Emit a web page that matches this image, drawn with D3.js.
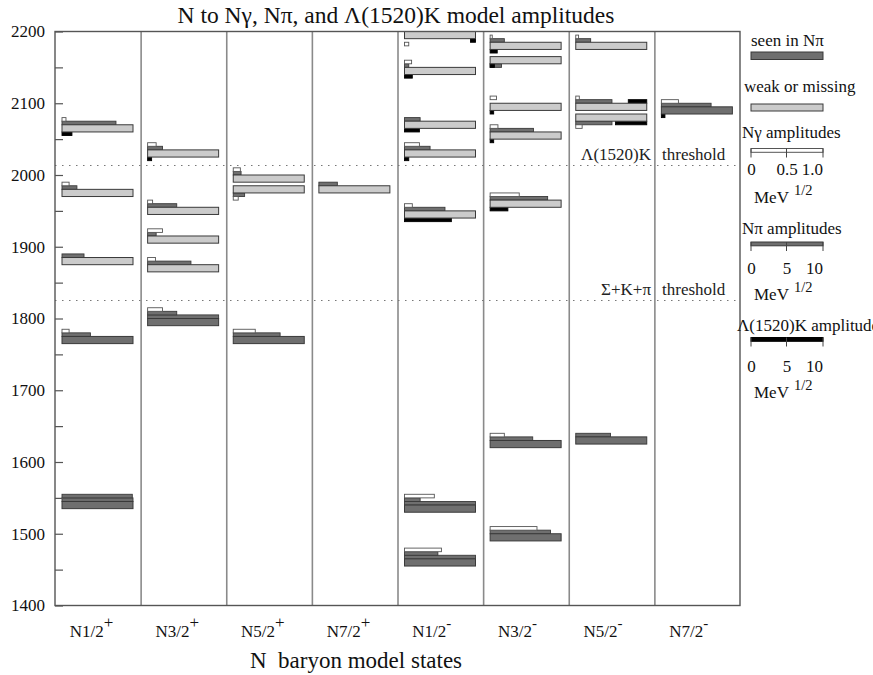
<!DOCTYPE html>
<html>
<head>
<meta charset="utf-8">
<script src="https://cdn.jsdelivr.net/npm/d3@7"></script>
<style>
  html, body { margin: 0; padding: 0; background: #fff; }
  svg { display: block; }
  svg text { font-family: "Liberation Serif", "Times New Roman", serif; }
</style>
</head>
<body>
<svg id="chart" width="873" height="675"></svg>
<script>
// Quark-model N* states: columns by J^P
const columnNames = ["N1/2+", "N3/2+", "N5/2+", "N7/2+", "N1/2-", "N3/2-", "N5/2-", "N7/2-"];
const columnBase  = ["N1/2", "N3/2", "N5/2", "N7/2", "N1/2", "N3/2", "N5/2", "N7/2"];
const columnSign  = ["+", "+", "+", "+", "-", "-", "-", "-"];

// one entry per model state
const stateColumn = [0, 0, 0, 0, 0,   1, 1, 1, 1, 1,   2, 2, 2,   3,   4, 4, 4, 4, 4, 4, 4,   5, 5, 5, 5, 5, 5, 5,   6, 6, 6, 6,   7];
const stateMass   = [1540, 1770, 1880, 1975, 2065,   1795, 1870, 1910, 1950, 2030,   1770, 1980, 1995,   1980,
                     1460, 1535, 1945, 2030, 2070, 2145, 2195,   1495, 1625, 1960, 2055, 2095, 2160, 2180,
                     1630, 2080, 2095, 2180,   2090];
// 1 = seen in N pi, 0 = weak or missing
const stateSeen   = [1, 1, 0, 0, 0,   1, 0, 0, 0, 0,   1, 0, 0,   0,   1, 1, 0, 0, 0, 0, 0,   1, 1, 0, 0, 0, 0, 0,   1, 0, 0, 0,   1];
// N gamma amplitudes (MeV^1/2)
const ampGamma    = [0, 0.10, 0, 0.10, 0.056,   0.21, 0.11, 0.21, 0.07, 0.12,   0.31, 0.07, 0.10,   0,
                     0.52, 0.42, 0.11, 0.21, 0, 0.10, 0.06,   0.66, 0.20, 0.41, 0.11, 0.09, 0, 0.03,
                     0, 0.09, 0.05, 0.04,   0.24];
// N pi amplitudes (MeV^1/2)
const ampPi       = [19.9, 4.0, 3.1, 2.1, 7.6,   14.1, 6.1, 1.2, 4.1, 2.1,   6.6, 1.6, 1.1,   2.6,
                     14.7, 12.2, 5.7, 3.6, 2.2, 0.6, 0,   8.5, 6.0, 8.1, 6.1, 0, 1.6, 2.0,
                     4.9, 5.1, 5.1, 2.1,   7.0];
// Lambda(1520) K amplitudes (MeV^1/2)
const ampLambdaK  = [0, 0, 0, 0, 1.4,   0, 0, 0, 0, 0.56,   0, 0, 0,   0,
                     0, 0, 6.6, 0.6, 2.1, 1.1, 0.7,   0, 0, 2.5, 0.5, 0.5, 0.6, 1.0,
                     0, 4.4, 2.6, 0,   0.5];
// which side of the mass bar the amplitude bars sit on ("a" above, "b" below),
// and whether the Lambda(1520)K bar is set against the right end of the row
const barSide     = ["a", "a", "a", "a", "a",   "a", "a", "a", "a", "a",   "a", "b", "a",   "a",
                     "a", "a", "a", "a", "a", "a", "b",   "a", "a", "a", "a", "a", "b", "a",
                     "a", "b", "a", "a",   "a"];
const lamRight    = [0, 0, 0, 0, 0,   0, 0, 0, 0, 0,   0, 0, 0,   0,
                     0, 0, 0, 0, 0, 0, 1,   0, 0, 0, 0, 0, 0, 0,
                     0, 1, 1, 0,   0];

// decay thresholds
const thresholdMass  = [2014, 1826];
const thresholdLabel = ["\u039B(1520)K", "\u03A3+K+\u03C0"];

const yTicks = d3.range(1400, 2201, 50);

const states = stateMass.map((m, i) => ({
  col: stateColumn[i], mass: m, seen: stateSeen[i],
  g: ampGamma[i], p: ampPi[i], k: ampLambdaK[i],
  side: barSide[i], kRight: lamRight[i]
}));

const svg = d3.select("#chart");
const plot = { left: 55, right: 740, top: 31.5, bottom: 605.5 };

const y = d3.scaleLinear().domain([1400, 2200]).range([plot.bottom, plot.top]);
const x = d3.scaleBand().domain(columnNames).range([plot.left, plot.right]);
const inset = 7;
const barLen = 71;
// amplitude scales: full bar length = 1.0 (N gamma), 10 (N pi, Lambda K)
const wG = d3.scaleLinear().domain([0, 1]).range([0, barLen]);
const wP = d3.scaleLinear().domain([0, 10]).range([0, barLen]);

const HALF = 5;   // half height of a mass bar, MeV
const ROW = 5;    // height of an amplitude row, MeV

const colors = {
  seen: "#6f6f6f", weak: "#cbcbcb", gamma: "#ffffff", pi: "#6f6f6f", lam: "#000000",
  edge: "#3a3a3a", sep: "#8a8a8a"
};

// column separators
svg.append("g").selectAll("line")
  .data(columnNames.slice(1))
  .join("line")
  .attr("x1", d => x(d) + 0.5).attr("x2", d => x(d) + 0.5)
  .attr("y1", plot.top).attr("y2", plot.bottom)
  .attr("stroke", colors.sep).attr("stroke-width", 1.6);

// threshold lines
svg.append("g").selectAll("line")
  .data(thresholdMass)
  .join("line")
  .attr("x1", plot.left).attr("x2", plot.right)
  .attr("y1", d => Math.round(y(d)) + 0.5).attr("y2", d => Math.round(y(d)) + 0.5)
  .attr("stroke", "#777").attr("stroke-width", 1.2)
  .attr("stroke-dasharray", "1.5,5.5");

const tg = svg.append("g").attr("font-size", 17).attr("fill", "#222");
thresholdMass.forEach((m, i) => {
  tg.append("text").attr("x", 651).attr("y", y(m) - 5).attr("text-anchor", "end").text(thresholdLabel[i]);
  tg.append("text").attr("x", 662).attr("y", y(m) - 5).text("threshold");
});

// an amplitude bar occupying row r (1 = next to the mass bar) on the state's side
function rowRect(g, s, r, x0, w, fill, stroke) {
  if (w <= 0.3) return;
  let m0, m1;
  if (s.side === "a") { m0 = s.mass + HALF + (r - 1) * ROW; m1 = m0 + ROW; }
  else { m1 = s.mass - HALF - (r - 1) * ROW; m0 = m1 - ROW; }
  g.append("rect")
    .attr("x", x0).attr("y", y(m1))
    .attr("width", w).attr("height", y(m0) - y(m1))
    .attr("fill", fill).attr("stroke", stroke).attr("stroke-width", 0.9);
}

const bars = svg.append("g");
states.forEach(s => {
  const g = bars.append("g");
  const x0 = x(columnNames[s.col]) + inset;
  // N pi rows: a full row for every 10 MeV^1/2, remainder in the next row
  const nRows = Math.max(1, Math.ceil(s.p / 10 - 1e-9));
  for (let r = 1; r <= nRows; r++) {
    const part = Math.min(10, s.p - (r - 1) * 10);
    rowRect(g, s, r, x0, wP(part), colors.pi, colors.edge);
  }
  // N gamma row beyond the N pi rows
  rowRect(g, s, nRows + 1, x0, wG(s.g), colors.gamma, "#555");
  // Lambda(1520)K
  if (s.k > 0) {
    const w = wP(s.k);
    if (s.kRight) {
      rowRect(g, s, 1, x0 + barLen - w, w, colors.lam, "#000");
    } else if (s.side === "b") {
      rowRect(g, s, 1, x0, w, colors.lam, "#000");
    } else {
      // below the mass bar
      const m1 = s.mass - HALF, m0 = m1 - ROW;
      g.append("rect").attr("x", x0).attr("y", y(m1))
        .attr("width", w).attr("height", y(m0) - y(m1))
        .attr("fill", colors.lam).attr("stroke", "#000").attr("stroke-width", 0.9);
    }
  }
  // mass bar
  g.append("rect")
    .attr("x", x0).attr("y", y(s.mass + HALF))
    .attr("width", barLen).attr("height", y(s.mass - HALF) - y(s.mass + HALF))
    .attr("fill", s.seen ? colors.seen : colors.weak)
    .attr("stroke", colors.edge).attr("stroke-width", 1);
});

// frame
svg.append("rect")
  .attr("x", plot.left).attr("y", plot.top)
  .attr("width", plot.right - plot.left).attr("height", plot.bottom - plot.top)
  .attr("fill", "none").attr("stroke", "#555").attr("stroke-width", 1.4);

// y axis: ticks every 50 MeV, labels every 100 MeV
const yAxis = d3.axisLeft(y)
  .tickValues(yTicks)
  .tickSize(-8)
  .tickPadding(10)
  .tickFormat(d => d % 100 === 0 ? d : "");
const ya = svg.append("g").attr("transform", `translate(${plot.left},0)`).call(yAxis);
ya.select(".domain").remove();
ya.selectAll(".tick line").attr("stroke", "#555").attr("stroke-width", 1.2);
ya.selectAll(".tick text").attr("font-size", 17).attr("fill", "#111");

// column labels
const cl = svg.append("g").attr("font-size", 17).attr("fill", "#111");
columnNames.forEach((c, i) => {
  const t = cl.append("text")
    .attr("x", x(c) + x.bandwidth() / 2 - 28)
    .attr("y", 637);
  t.append("tspan").text(columnBase[i]);
  t.append("tspan").attr("dy", -9).attr("font-size", columnSign[i] === "+" ? 17 : 15)
    .text(columnSign[i]);
});

// titles
svg.append("text")
  .attr("x", 396).attr("y", 23)
  .attr("text-anchor", "middle").attr("font-size", 23.5).attr("fill", "#111")
  .text("N to N\u03B3, N\u03C0, and \u039B(1520)K model amplitudes");
svg.append("text")
  .attr("x", 250).attr("y", 668)
  .attr("font-size", 23).attr("fill", "#111")
  .attr("xml:space", "preserve")
  .text("N  baryon model states");

// legend
const lg = svg.append("g").attr("font-size", 17).attr("fill", "#111");
const lx = 751;
lg.append("text").attr("x", 751).attr("y", 46).text("seen in N\u03C0");
lg.append("rect").attr("x", lx).attr("y", 52).attr("width", barLen + 1).attr("height", 7.5)
  .attr("fill", colors.seen).attr("stroke", colors.edge);
lg.append("text").attr("x", 744).attr("y", 92).text("weak or missing");
lg.append("rect").attr("x", lx).attr("y", 104).attr("width", barLen + 1).attr("height", 7)
  .attr("fill", colors.weak).attr("stroke", colors.edge);

const scaleDefs = [
  { title: "N\u03B3  amplitudes", tx: 742, ty: 138, by: 148.5, fill: colors.gamma, stroke: "#555",
    ticks: [0, 0.5, 1.0], fmt: d3.format(".1f"), sc: wG, ly: 175, uy: 203 },
  { title: "N\u03C0 amplitudes", tx: 742, ty: 234, by: 242, fill: colors.pi, stroke: colors.edge,
    ticks: [0, 5, 10], fmt: d3.format("d"), sc: wP, ly: 274, uy: 300 },
  { title: "\u039B(1520)K amplitudes", tx: 737, ty: 331, by: 337.5, fill: colors.lam, stroke: "#000",
    ticks: [0, 5, 10], fmt: d3.format("d"), sc: wP, ly: 371.5, uy: 398 }
];
scaleDefs.forEach(sd => {
  lg.append("text").attr("x", sd.tx).attr("y", sd.ty).text(sd.title);
  lg.append("rect").attr("x", lx).attr("y", sd.by).attr("width", barLen + 1).attr("height", 3.8)
    .attr("fill", sd.fill).attr("stroke", sd.stroke).attr("stroke-width", 1);
  sd.ticks.forEach((t, j) => {
    const tx = lx + sd.sc(t) + (j === 2 ? 1 : 0);
    lg.append("line").attr("x1", tx).attr("x2", tx).attr("y1", sd.by).attr("y2", sd.by + 9)
      .attr("stroke", "#444").attr("stroke-width", 1);
    lg.append("text").attr("x", j === 2 ? tx : tx + 0.5).attr("y", sd.ly)
      .attr("text-anchor", j === 2 ? "end" : "middle")
      .text(j === 0 ? "0" : sd.fmt(t));
  });
  const u = lg.append("text").attr("x", 754).attr("y", sd.uy);
  u.append("tspan").text("MeV");
  u.append("tspan").attr("dx", 5).attr("dy", -8).attr("font-size", 14.5).text("1/2");
});
</script>
</body>
</html>
